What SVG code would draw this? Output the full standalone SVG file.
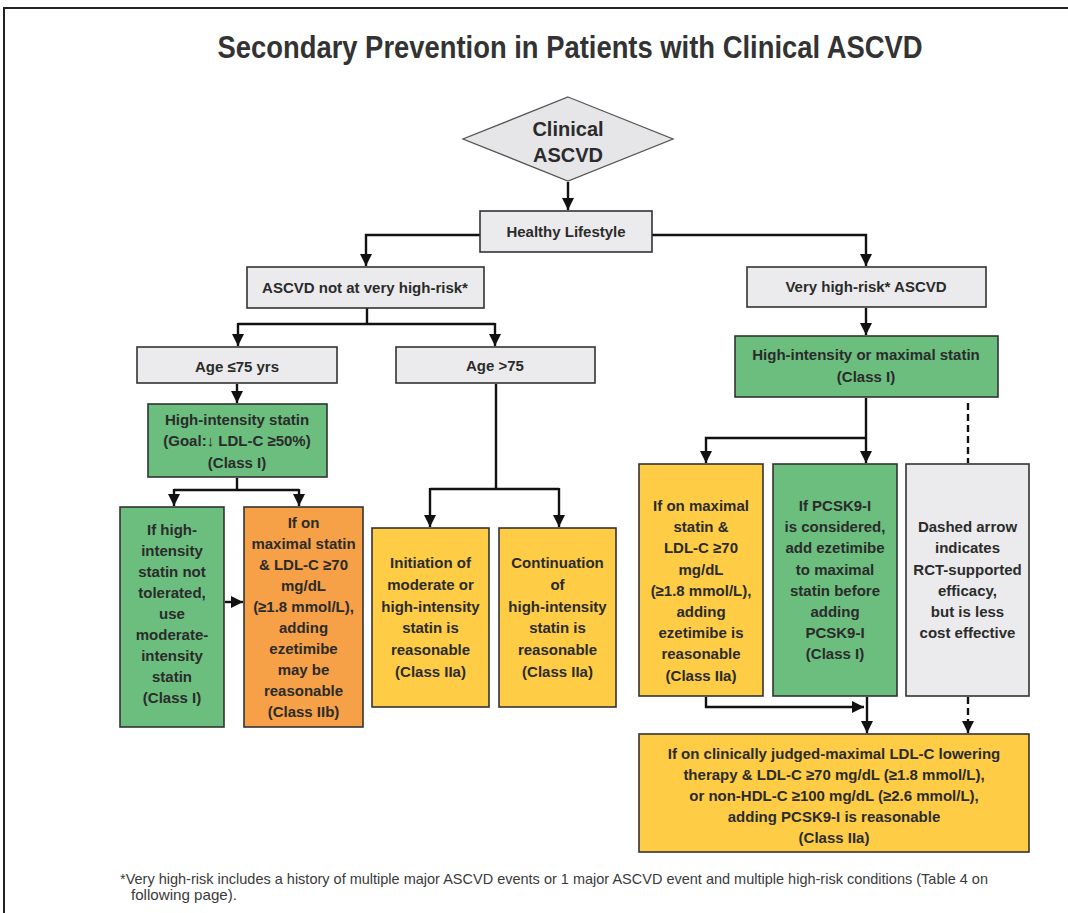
<svg xmlns="http://www.w3.org/2000/svg" width="1068" height="913" viewBox="0 0 1068 913">
<style>
.bx{stroke:#333;stroke-width:1.6}
.gray{fill:#EBEBED}
.green{fill:#6BBE7E}
.yellow{fill:#FFCD45}
.orange{fill:#F6A047}
.t{font-family:"Liberation Sans",Arial,sans-serif;font-weight:bold;font-size:15px;fill:#2b2b2b;text-anchor:middle}
.c{fill:none;stroke:#111;stroke-width:2.4}
.d{fill:none;stroke:#111;stroke-width:2.4;stroke-dasharray:7,4}
.ft{font-family:"Liberation Sans Narrow","Liberation Sans",Arial,sans-serif;font-size:15px;fill:#3a3a3a}
</style>
<defs>
<marker id="ah" viewBox="0 0 10 10" refX="10" refY="5" markerWidth="12" markerHeight="12" markerUnits="userSpaceOnUse" orient="auto"><path d="M0,0 L10,5 L0,10 z" fill="#111"/></marker>
</defs>
<rect x="0" y="0" width="1068" height="913" fill="#fff"/>
<path d="M4,913 V8 H1068" fill="none" stroke="#222" stroke-width="2"/>
<text x="570" y="58" font-family="'Liberation Sans Narrow','Liberation Sans',Arial,sans-serif" font-weight="bold" font-size="32" fill="#333" text-anchor="middle" textLength="705" lengthAdjust="spacingAndGlyphs">Secondary Prevention in Patients with Clinical ASCVD</text>

<g id="connectors">
<path class="c" d="M568,182 V210" marker-end="url(#ah)"/>
<path class="c" d="M480,235 H366 V266" marker-end="url(#ah)"/>
<path class="c" d="M652,235 H866 V266" marker-end="url(#ah)"/>
<path class="c" d="M367,308 V324"/>
<path class="c" d="M238,324 H495"/>
<path class="c" d="M238,323 V346" marker-end="url(#ah)"/>
<path class="c" d="M495,323 V346" marker-end="url(#ah)"/>
<path class="c" d="M237,384 V403" marker-end="url(#ah)"/>
<path class="c" d="M237,478 V490"/>
<path class="c" d="M174,490 H299"/>
<path class="c" d="M174,489 V506" marker-end="url(#ah)"/>
<path class="c" d="M299,489 V506" marker-end="url(#ah)"/>
<path class="c" d="M225,602 H243" marker-end="url(#ah)"/>
<path class="c" d="M496,384 V489"/>
<path class="c" d="M430,489 H559"/>
<path class="c" d="M430,488 V527" marker-end="url(#ah)"/>
<path class="c" d="M559,488 V527" marker-end="url(#ah)"/>
<path class="c" d="M866,308 V335" marker-end="url(#ah)"/>
<path class="c" d="M866,398 V463" marker-end="url(#ah)"/>
<path class="c" d="M866,438 H706 V463" marker-end="url(#ah)"/>
<path class="d" d="M968,403 V463"/>
<path class="c" d="M706,697 V707 H864" marker-end="url(#ah)"/>
<path class="c" d="M867,697 V733" marker-end="url(#ah)"/>
<path class="d" d="M968,697 V733" marker-end="url(#ah)"/>
</g>

<g id="clinical-ascvd">
<polygon points="568,97 673,139 568,181 463,139" fill="#E6E6E8" stroke="#555" stroke-width="1.3"/>
<text class="t" x="568" y="136" style="font-size:20px">Clinical</text>
<text class="t" x="568" y="162" style="font-size:20px">ASCVD</text>
</g>

<g id="healthy-lifestyle">
<rect class="bx gray" x="480" y="211" width="172" height="41"/>
<text class="t" x="566" y="237">Healthy Lifestyle</text>
</g>

<g id="not-very-high-risk">
<rect class="bx gray" x="247" y="267" width="237" height="41"/>
<text class="t" x="365" y="293">ASCVD not at very high-risk*</text>
</g>

<g id="very-high-risk">
<rect class="bx gray" x="747" y="267" width="239" height="40"/>
<text class="t" x="866" y="292">Very high-risk* ASCVD</text>
</g>

<g id="age-le-75">
<rect class="bx gray" x="137" y="347" width="200" height="36"/>
<text class="t" x="237" y="372">Age ≤75 yrs</text>
</g>

<g id="age-gt-75">
<rect class="bx gray" x="396" y="347" width="199" height="36"/>
<text class="t" x="495" y="371">Age &gt;75</text>
</g>

<g id="high-intensity-statin">
<rect class="bx green" x="148" y="404" width="179" height="73"/>
<text class="t" x="237" y="425">High-intensity statin</text>
<text class="t" x="237" y="446">(Goal:↓ LDL-C ≥50%)</text>
<text class="t" x="237" y="468">(Class I)</text>
</g>

<g id="max-statin">
<rect class="bx green" x="735" y="336" width="263" height="61"/>
<text class="t" x="866" y="360">High-intensity or maximal statin</text>
<text class="t" x="866" y="382">(Class I)</text>
</g>

<g id="not-tolerated">
<rect class="bx green" x="120" y="507" width="104" height="220"/>
<text class="t" x="172" y="535">If high-</text>
<text class="t" x="172" y="556">intensity</text>
<text class="t" x="172" y="577">statin not</text>
<text class="t" x="172" y="598">tolerated,</text>
<text class="t" x="172" y="619">use</text>
<text class="t" x="172" y="640">moderate-</text>
<text class="t" x="172" y="661">intensity</text>
<text class="t" x="172" y="682">statin</text>
<text class="t" x="172" y="703">(Class I)</text>
</g>

<g id="ezetimibe-iib">
<rect class="bx orange" x="244" y="507" width="119" height="220"/>
<text class="t" x="303.5" y="528">If on</text>
<text class="t" x="303.5" y="549">maximal statin</text>
<text class="t" x="303.5" y="570">&amp; LDL-C ≥70</text>
<text class="t" x="303.5" y="591">mg/dL</text>
<text class="t" x="303.5" y="612">(≥1.8 mmol/L),</text>
<text class="t" x="303.5" y="633">adding</text>
<text class="t" x="303.5" y="654">ezetimibe</text>
<text class="t" x="303.5" y="675">may be</text>
<text class="t" x="303.5" y="696">reasonable</text>
<text class="t" x="303.5" y="717">(Class IIb)</text>
</g>

<g id="initiation">
<rect class="bx yellow" x="372" y="528" width="117" height="179"/>
<text class="t" x="430.5" y="568">Initiation of</text>
<text class="t" x="430.5" y="590">moderate or</text>
<text class="t" x="430.5" y="612">high-intensity</text>
<text class="t" x="430.5" y="633">statin is</text>
<text class="t" x="430.5" y="655">reasonable</text>
<text class="t" x="430.5" y="677">(Class IIa)</text>
</g>

<g id="continuation">
<rect class="bx yellow" x="499" y="528" width="117" height="179"/>
<text class="t" x="557.5" y="568">Continuation</text>
<text class="t" x="557.5" y="590">of</text>
<text class="t" x="557.5" y="612">high-intensity</text>
<text class="t" x="557.5" y="633">statin is</text>
<text class="t" x="557.5" y="655">reasonable</text>
<text class="t" x="557.5" y="677">(Class IIa)</text>
</g>

<g id="ezetimibe-iia">
<rect class="bx yellow" x="639" y="464" width="124" height="232"/>
<text class="t" x="701" y="511">If on maximal</text>
<text class="t" x="701" y="532">statin &amp;</text>
<text class="t" x="701" y="553">LDL-C ≥70</text>
<text class="t" x="701" y="575">mg/dL</text>
<text class="t" x="701" y="596">(≥1.8 mmol/L),</text>
<text class="t" x="701" y="617">adding</text>
<text class="t" x="701" y="638">ezetimibe is</text>
<text class="t" x="701" y="659">reasonable</text>
<text class="t" x="701" y="681">(Class IIa)</text>
</g>

<g id="pcsk9-considered">
<rect class="bx green" x="773" y="464" width="124" height="232"/>
<text class="t" x="835" y="511">If PCSK9-I</text>
<text class="t" x="835" y="532">is considered,</text>
<text class="t" x="835" y="553">add ezetimibe</text>
<text class="t" x="835" y="575">to maximal</text>
<text class="t" x="835" y="596">statin before</text>
<text class="t" x="835" y="617">adding</text>
<text class="t" x="835" y="638">PCSK9-I</text>
<text class="t" x="835" y="659">(Class I)</text>
</g>

<g id="dashed-legend">
<rect class="bx gray" x="906" y="464" width="123" height="232"/>
<text class="t" x="967.5" y="532">Dashed arrow</text>
<text class="t" x="967.5" y="553">indicates</text>
<text class="t" x="967.5" y="575">RCT-supported</text>
<text class="t" x="967.5" y="596">efficacy,</text>
<text class="t" x="967.5" y="617">but is less</text>
<text class="t" x="967.5" y="638">cost effective</text>
</g>

<g id="pcsk9-reasonable">
<rect class="bx yellow" x="639" y="734" width="390" height="118"/>
<text class="t" x="834" y="759">If on clinically judged-maximal LDL-C lowering</text>
<text class="t" x="834" y="780">therapy &amp; LDL-C ≥70 mg/dL (≥1.8 mmol/L),</text>
<text class="t" x="834" y="801">or non-HDL-C ≥100 mg/dL (≥2.6 mmol/L),</text>
<text class="t" x="834" y="822">adding PCSK9-I is reasonable</text>
<text class="t" x="834" y="843">(Class IIa)</text>
</g>

<text class="ft" x="120" y="884" textLength="868" lengthAdjust="spacingAndGlyphs">*Very high-risk includes a history of multiple major ASCVD events or 1 major ASCVD event and multiple high-risk conditions (Table 4 on</text>
<text class="ft" x="131" y="900" textLength="106" lengthAdjust="spacingAndGlyphs">following page).</text>
</svg>
